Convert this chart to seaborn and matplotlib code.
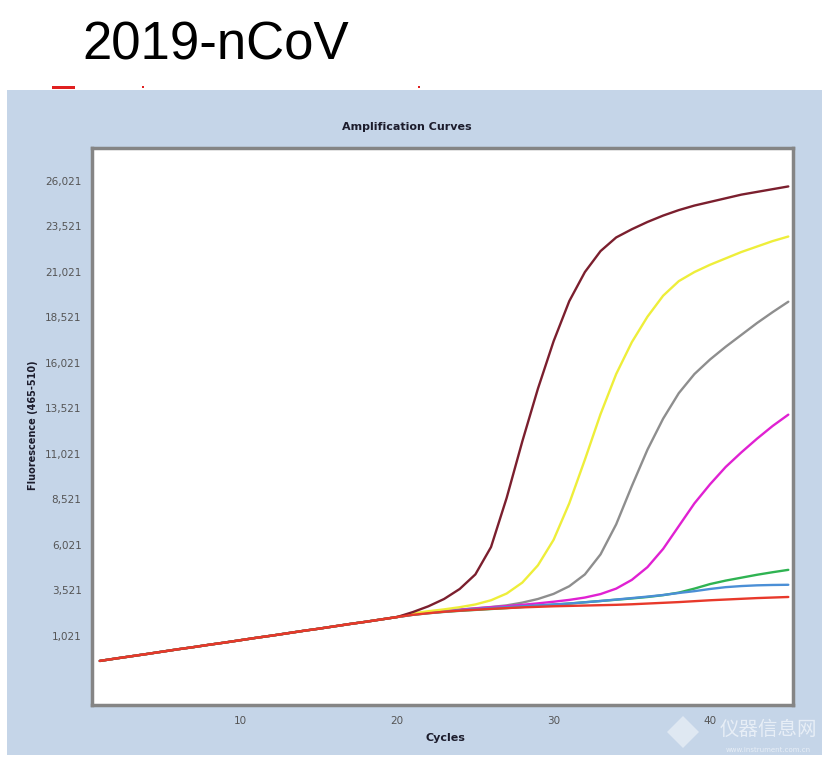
import numpy as np
import pandas as pd
import matplotlib.pyplot as plt
import matplotlib.patches as mpatches
from matplotlib.ticker import MultipleLocator
import seaborn as sns

# 数据: 循环数 1-45, 前20个循环各曲线基本重合
cycles = list(range(1, 46))
early = [-350, -220, -95, 30, 160, 290, 410, 540, 660, 790,
         920, 1040, 1170, 1300, 1420, 1550, 1680, 1800, 1930, 2060]

# 第21-45循环
brown = [2330, 2650, 3050, 3600, 4400, 5900, 8600, 11700, 14600, 17200,
         19400, 21000, 22150, 22900, 23350, 23750, 24100, 24400, 24650, 24850,
         25050, 25250, 25400, 25550, 25700]
yellow = [2260, 2380, 2480, 2600, 2750, 2980, 3350, 3950, 4900, 6300,
          8300, 10700, 13200, 15400, 17150, 18550, 19700, 20500, 21000, 21400,
          21750, 22100, 22400, 22700, 22950]
gray = [2230, 2320, 2400, 2470, 2540, 2610, 2700, 2850, 3050, 3330,
        3750, 4400, 5500, 7150, 9250, 11250, 12950, 14350, 15400, 16200,
        16900, 17550, 18200, 18800, 19370]
magenta = [2220, 2310, 2390, 2460, 2530, 2600, 2660, 2730, 2810, 2900,
           3000, 3130, 3320, 3620, 4100, 4800, 5800, 7050, 8300, 9350,
           10300, 11100, 11850, 12550, 13170]
green = [2180, 2270, 2340, 2400, 2450, 2500, 2550, 2610, 2670, 2740,
         2800, 2870, 2940, 3010, 3080, 3160, 3260, 3400, 3620, 3870,
         4060, 4220, 4380, 4520, 4650]
blue = [2190, 2280, 2360, 2430, 2490, 2550, 2600, 2650, 2700, 2750,
        2800, 2870, 2940, 3020, 3100, 3180, 3270, 3380, 3480, 3600,
        3700, 3760, 3800, 3820, 3830]
red = [2180, 2270, 2350, 2410, 2460, 2510, 2550, 2590, 2620, 2650,
       2670, 2690, 2710, 2730, 2760, 2800, 2840, 2880, 2930, 2980,
       3020, 3060, 3100, 3130, 3160]

samples = ["gray", "magenta", "green", "blue", "yellow", "brown", "red"]
series = {"gray": gray, "magenta": magenta, "green": green, "blue": blue,
          "yellow": yellow, "brown": brown, "red": red}
colors = ["#8e8e8e", "#e021d2", "#2fb352", "#4b8fd6", "#eeee3a", "#7b1f2e", "#e8392b"]

y_ticks = [1021, 3521, 6021, 8521, 11021, 13521, 16021, 18521, 21021, 23521, 26021]
x_ticks = [10, 20, 30, 40]

rows = []
for s in samples:
    vals = early + series[s]
    for c, v in zip(cycles, vals):
        rows.append({"Cycle": c, "Fluorescence": v, "Sample": s})
df = pd.DataFrame(rows)

sns.set_style("white")
plt.rcParams["font.family"] = ["DejaVu Sans"]

fig = plt.figure(figsize=(8.35, 7.69), dpi=100)

# 蓝色背景面板 (放在一个底层 axes 里)
bg = fig.add_axes([0, 0, 1, 1], zorder=0)
bg.set_xlim(0, 835)
bg.set_ylim(769, 0)
bg.axis("off")
bg.add_patch(mpatches.Rectangle((7, 90), 815, 665, facecolor="#c5d5e8", edgecolor="none"))

# 顶部的红色小记号
for x0, w, h in [(52, 23, 3), (142, 2, 2), (418, 2, 2)]:
    bg.add_patch(mpatches.Rectangle((x0, 86), w, h, facecolor="#e02020", edgecolor="none"))

# 水印
bg.add_patch(mpatches.Polygon([(683, 716), (699, 732), (683, 748), (667, 732)], closed=True,
                              facecolor="#e6edf5", edgecolor="none", alpha=0.8))
bg.text(768, 729, "仪器信息网", fontsize=14, color="#eef3f9", alpha=0.85,
        ha="center", va="center", family=["Noto Sans CJK SC", "DejaVu Sans"])
bg.text(768, 750, "www.instrument.com.cn", fontsize=5, color="#eef3f9",
        alpha=0.85, ha="center", va="center")

bg.text(82, 45, "2019-nCoV", fontsize=38, color="black",
        ha="left", va="center", family=["Liberation Sans", "DejaVu Sans"])
bg.text(445, 738, "Cycles", fontsize=8, fontweight="bold",
        color="#1c1c2c", ha="center", va="center")
bg.text(33, 425, "Fluorescence (465-510)", fontsize=7, fontweight="bold",
        color="#1c1c2c", ha="center", va="center", rotation=90)
bg.text(407, 127, "Amplification Curves", fontsize=8, fontweight="bold",
        color="#1c1c2c", ha="center", va="center")

ax = fig.add_axes([92 / 835, 1 - 705 / 769, 701 / 835, 557 / 769], zorder=2)
ax.set_facecolor("white")
sns.lineplot(data=df, x="Cycle", y="Fluorescence", hue="Sample", hue_order=samples,
             palette=colors, legend=False, linewidth=1.7, ax=ax)
for ln in ax.lines:
    ln.set_solid_joinstyle("round")

ax.set_xlim(0.5, 45.3)
ax.set_ylim(-2770, 27810)
ax.set_xticks(x_ticks)
ax.set_yticks(y_ticks)
ax.set_yticklabels([f"{v:,}" for v in y_ticks])
ax.yaxis.set_minor_locator(MultipleLocator(500))
ax.xaxis.set_minor_locator(MultipleLocator(1))
ax.tick_params(axis="both", which="major", direction="out", length=4, width=1,
               color="#8a8a8a", labelsize=7.5, labelcolor="#555555")
ax.tick_params(axis="both", which="minor", direction="out", length=2, width=0.8,
               color="#9a9a9a")
ax.tick_params(axis="x", pad=4)
for sp in ax.spines.values():
    sp.set_color("#858585")
    sp.set_linewidth(2.5)

ax.set_xlabel("")
ax.set_ylabel("")

fig.savefig("out.png", dpi=100)
